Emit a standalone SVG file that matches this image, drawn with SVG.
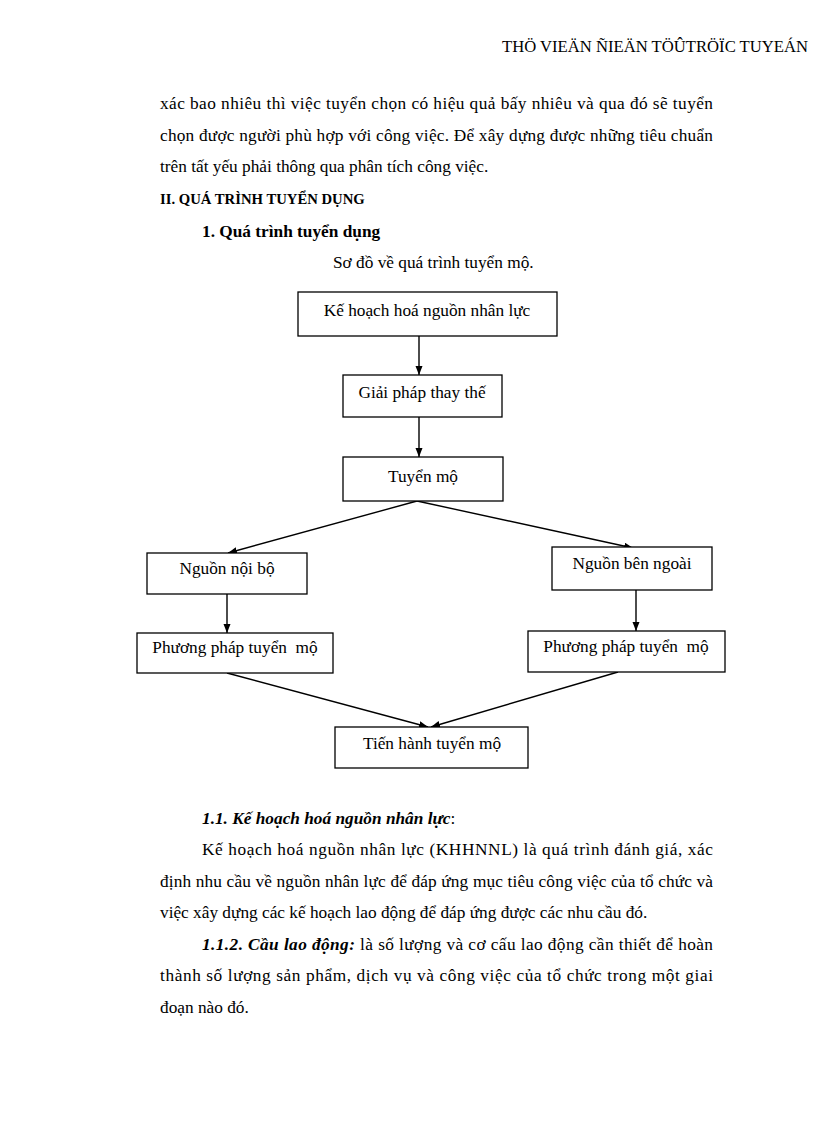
<svg xmlns="http://www.w3.org/2000/svg" width="816" height="1123" viewBox="0 0 816 1123">
<style>
text{font-family:"Liberation Serif","Times New Roman",serif;fill:#000}
.b{font-size:17.3px}
.n{font-size:17.3px;text-anchor:middle}
.bx{fill:#fff;stroke:#000;stroke-width:1.3}
.c{stroke:#000;stroke-width:1.4;fill:none;marker-end:url(#ah)}
.bi{font-weight:bold;font-style:italic}
</style>
<defs>
<marker id="ah" markerUnits="userSpaceOnUse" markerWidth="10" markerHeight="8" refX="9" refY="3.5" orient="auto">
<path d="M0,0 L9,3.5 L0,7 z" fill="#000"/>
</marker>
</defs>
<rect width="816" height="1123" fill="#fff"/>
<text x="502" y="52" font-size="17" textLength="306" lengthAdjust="spacingAndGlyphs">THÖ VIEÄN ÑIEÄN TÖÛTRÖÏC TUYEÁN</text>
<text class="b" x="160" y="109" textLength="553" lengthAdjust="spacing">xác bao nhiêu thì việc tuyển chọn có hiệu quả bấy nhiêu và qua đó sẽ tuyển</text>
<text class="b" x="160" y="141" textLength="553" lengthAdjust="spacing">chọn được người phù hợp với công việc. Để xây dựng được những tiêu chuẩn</text>
<text class="b" x="160" y="172">trên tất yếu phải thông qua phân tích công việc.</text>
<text x="160" y="204" font-size="14.7" font-weight="bold">II. QUÁ TRÌNH TUYỂN DỤNG</text>
<text x="202" y="237" font-size="17.3" font-weight="bold">1. Quá trình tuyển dụng</text>
<text class="b" x="333" y="268">Sơ đồ về quá trình tuyển mộ.</text>
<g id="connectors">
<line class="c" x1="419" y1="336" x2="419" y2="375"/>
<line class="c" x1="419" y1="417" x2="419" y2="457"/>
<line class="c" x1="417" y1="501" x2="228" y2="553"/>
<line class="c" x1="417" y1="501" x2="633" y2="548"/>
<line class="c" x1="227" y1="594" x2="227" y2="633"/>
<line class="c" x1="636" y1="590" x2="636" y2="631"/>
<line class="c" x1="227" y1="673" x2="428" y2="727"/>
<line class="c" x1="618" y1="672" x2="431" y2="727"/>
</g>
<g id="n1"><rect class="bx" x="298" y="292" width="259" height="44"/><text class="n" x="427" y="316">Kế hoạch hoá nguồn nhân lực</text></g>
<g id="n2"><rect class="bx" x="343" y="375" width="159" height="42"/><text class="n" x="422" y="398">Giải pháp thay thế</text></g>
<g id="n3"><rect class="bx" x="343" y="457" width="160" height="44"/><text class="n" x="423" y="482">Tuyển mộ</text></g>
<g id="n4"><rect class="bx" x="147" y="553" width="160" height="41"/><text class="n" x="227" y="574">Nguồn nội bộ</text></g>
<g id="n5"><rect class="bx" x="552" y="547" width="160" height="43"/><text class="n" x="632" y="569">Nguồn bên ngoài</text></g>
<g id="n6"><rect class="bx" x="137" y="633" width="196" height="40"/><text class="n" x="235" y="653" xml:space="preserve">Phương pháp tuyển  mộ</text></g>
<g id="n7"><rect class="bx" x="528" y="631" width="197" height="41"/><text class="n" x="626" y="652" xml:space="preserve">Phương pháp tuyển  mộ</text></g>
<g id="n8"><rect class="bx" x="335" y="727" width="193" height="41"/><text class="n" x="432" y="749">Tiến hành tuyển mộ</text></g>
<text class="b" x="202" y="824"><tspan class="bi">1.1. Kế hoạch hoá nguồn nhân lực</tspan>:</text>
<text class="b" x="202" y="855" textLength="511" lengthAdjust="spacing">Kế hoạch hoá nguồn nhân lực (KHHNNL) là quá trình đánh giá, xác</text>
<text class="b" x="160" y="887" textLength="553" lengthAdjust="spacing">định nhu cầu về nguồn nhân lực để đáp ứng mục tiêu công việc của tổ chức và</text>
<text class="b" x="160" y="918">việc xây dựng các kế hoạch lao động để đáp ứng được các nhu cầu đó.</text>
<text class="b" x="202" y="950" textLength="511" lengthAdjust="spacing"><tspan class="bi">1.1.2. Cầu lao động:</tspan> là số lượng và cơ cấu lao động cần thiết để hoàn</text>
<text class="b" x="160" y="981" textLength="553" lengthAdjust="spacing">thành số lượng sản phẩm, dịch vụ và công việc của tổ chức trong một giai</text>
<text class="b" x="160" y="1013">đoạn nào đó.</text>
</svg>
